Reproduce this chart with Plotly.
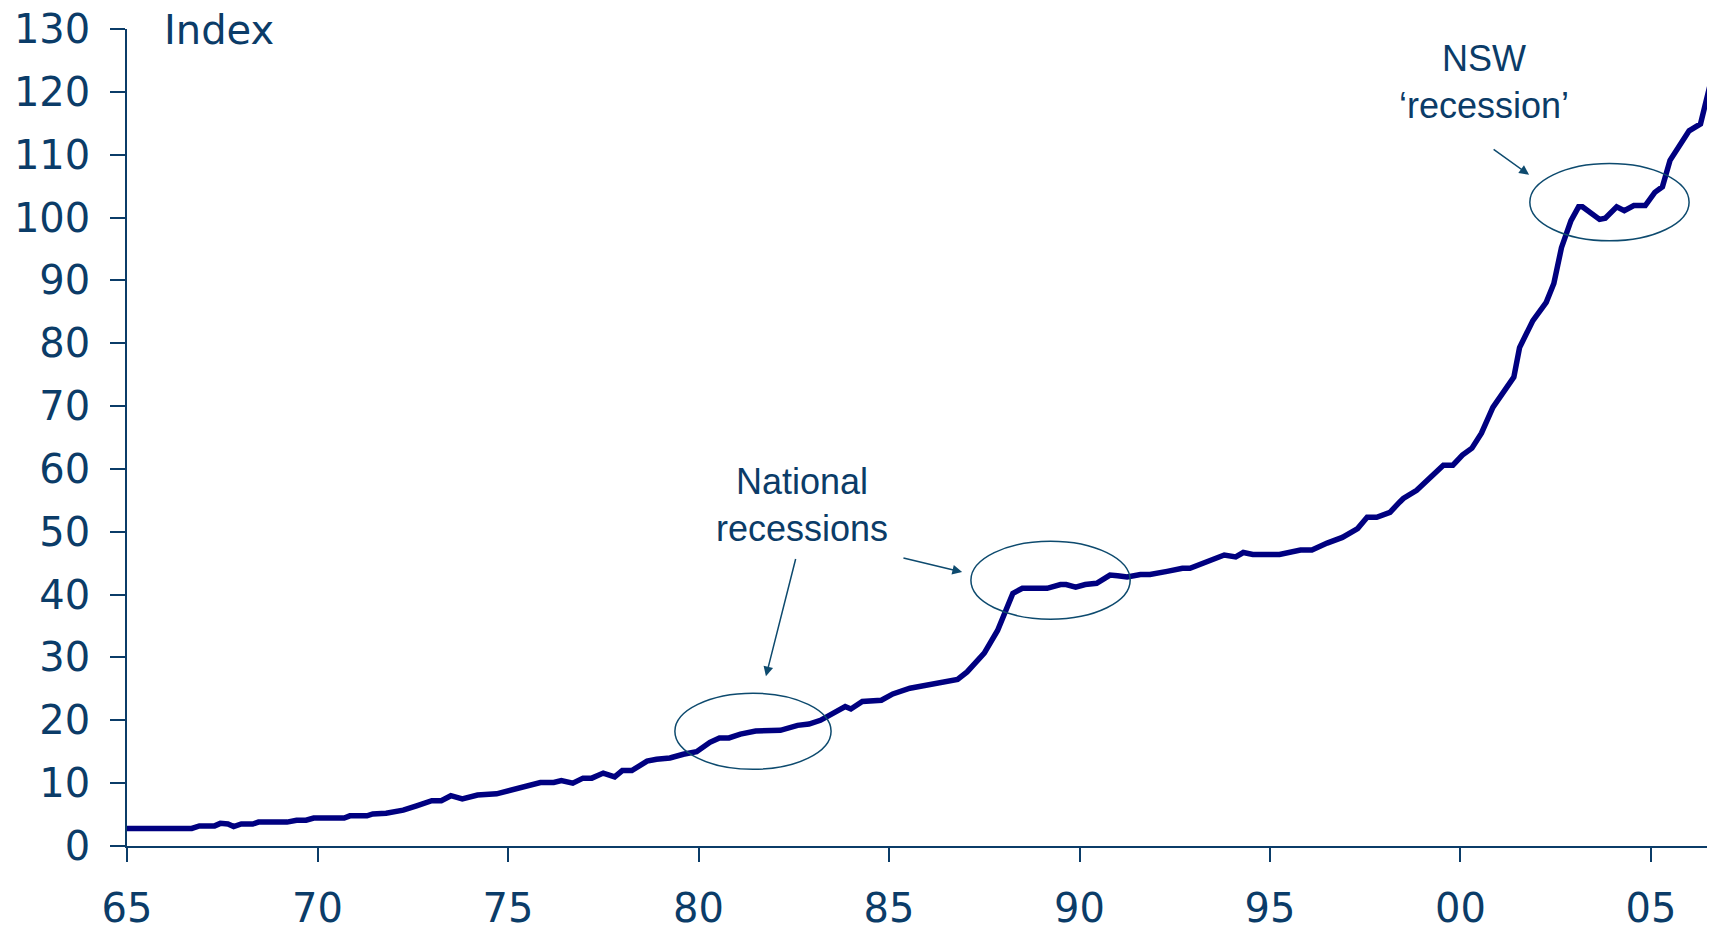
import plotly.graph_objects as go

# index values (year as decimal, index level)
years = [
    1965.0, 1966.7, 1966.9, 1967.3, 1967.45, 1967.65, 1967.8, 1968.0, 1968.3, 1968.45,
    1969.2, 1969.45, 1969.7, 1969.9, 1970.7, 1970.85, 1971.3, 1971.45, 1971.8, 1972.25,
    1972.6, 1973.0, 1973.25, 1973.5, 1973.8, 1974.2, 1974.7, 1975.0, 1975.3, 1975.6,
    1975.85, 1976.2, 1976.4, 1976.7, 1976.97, 1977.2, 1977.5, 1977.8, 1978.0, 1978.25,
    1978.65, 1978.9, 1979.25, 1979.6, 1979.95, 1980.3, 1980.55, 1980.8, 1981.1, 1981.5,
    1982.15, 1982.6, 1982.9, 1983.2, 1983.55, 1983.85, 1984.0, 1984.3, 1984.8, 1985.1,
    1985.55, 1986.1, 1986.6, 1986.8, 1987.05, 1987.5, 1987.85, 1988.0, 1988.25, 1988.5,
    1989.15, 1989.5, 1989.65, 1989.9, 1990.15, 1990.45, 1990.8, 1991.0, 1991.25, 1991.6,
    1991.85, 1992.3, 1992.7, 1992.9, 1993.15, 1993.4, 1993.8, 1994.1, 1994.3, 1994.55,
    1995.25, 1995.8, 1996.1, 1996.5, 1996.9, 1997.3, 1997.55, 1997.8, 1998.15, 1998.4,
    1998.5, 1998.85, 1999.2, 1999.55, 1999.8, 2000.05, 2000.3, 2000.55, 2000.85, 2001.2,
    2001.4, 2001.55, 2001.9, 2002.25, 2002.45, 2002.65, 2002.9, 2003.1, 2003.2, 2003.65,
    2003.8, 2004.1, 2004.3, 2004.55, 2004.85, 2005.1, 2005.3, 2005.5, 2005.85, 2006.0,
    2006.3, 2006.6, 2006.75,
]
index = [
    2.8, 2.8, 3.2, 3.2, 3.6, 3.5, 3.1, 3.5, 3.5, 3.8,
    3.8, 4.1, 4.1, 4.45, 4.45, 4.8, 4.8, 5.1, 5.2, 5.7,
    6.4, 7.2, 7.2, 8.0, 7.5, 8.1, 8.3, 8.8, 9.2, 9.8,
    10.1, 10.1, 10.4, 10.0, 10.8, 10.8, 11.6, 11.0, 12.0, 12.0,
    13.5, 13.8, 14.0, 14.6, 15.0, 16.5, 17.2, 17.2, 17.8, 18.3,
    18.4, 19.2, 19.4, 20.0, 21.2, 22.2, 21.8, 23.0, 23.2, 24.2,
    25.1, 25.8, 26.4, 26.5, 27.7, 30.7, 34.3, 36.4, 40.2, 41.0,
    41.0, 41.6, 41.6, 41.2, 41.6, 41.8, 43.1, 43.0, 42.8, 43.2,
    43.2, 43.7, 44.2, 44.2, 44.8, 45.3, 46.3, 46.0, 46.7, 46.4,
    46.4, 47.1, 47.1, 48.2, 49.1, 50.5, 52.3, 52.3, 53.1, 54.7,
    55.3, 56.6, 58.7, 60.6, 60.6, 62.2, 63.3, 65.7, 69.8, 72.8,
    74.6, 79.3, 83.6, 86.5, 89.5, 95.2, 99.5, 101.7, 101.7, 99.7,
    99.9, 101.7, 101.1, 101.9, 101.9, 104.0, 104.9, 109.1, 112.6, 113.8,
    114.9, 122.3, 125.0,
]

x_tickvals = [1965, 1970, 1975, 1980, 1985, 1990, 1995, 2000, 2005]
x_ticktext = ["65", "70", "75", "80", "85", "90", "95", "00", "05"]
y_tickvals = list(range(0, 131, 10))

axis_col = "#0b3c68"
ann_col = "#0d4a6e"

fig = go.Figure()
fig.add_trace(go.Scatter(x=years, y=index, mode="lines",
                         line=dict(color="#000080", width=5.5), showlegend=False))

# circled periods
circles = [
    (1979.38, 12.2, 1983.48, 24.3),
    (1987.15, 36.1, 1991.33, 48.5),
    (2001.82, 96.3, 2006.0, 108.6),
]
for x0, y0, x1, y1 in circles:
    fig.add_shape(type="circle", xref="x", yref="y", x0=x0, y0=y0, x1=x1, y1=y1,
                  line=dict(color=ann_col, width=1.5))

# arrows: (head x, head y, tail x, tail y)
arrows = [
    (1981.77, 27.0, 1982.56, 45.9),
    (1986.92, 43.6, 1985.34, 45.9),
    (2001.80, 106.8, 2000.83, 111.0),
]
for hx, hy, tx, ty in arrows:
    fig.add_annotation(x=hx, y=hy, ax=tx, ay=ty, xref="x", yref="y", axref="x", ayref="y",
                       text="", showarrow=True, arrowhead=2, arrowsize=1.3,
                       arrowwidth=1.5, arrowcolor=ann_col)

label_font = dict(family="Liberation Sans, Arial", size=36, color=axis_col)
fig.add_annotation(x=1982.72, y=54.2, xref="x", yref="y", text="National<br>recessions",
                   showarrow=False, font=label_font, align="center")
fig.add_annotation(x=2000.62, y=121.5, xref="x", yref="y", text="NSW<br>\u2018recession\u2019",
                   showarrow=False, font=label_font, align="center")
fig.add_annotation(x=1965.92, y=129.9, xref="x", yref="y", text="Index", xanchor="left",
                   showarrow=False, font=dict(family="DejaVu Sans", size=40, color=axis_col))

tick_font = dict(family="DejaVu Sans", size=40, color=axis_col)
fig.update_xaxes(range=[1965, 2006.68], tickvals=x_tickvals, ticktext=x_ticktext,
                 showgrid=False, zeroline=False, showline=True, linecolor=axis_col, linewidth=1.5,
                 ticks="outside", ticklen=14, tickwidth=1.5, tickcolor=axis_col,
                 tickfont=tick_font, ticklabelstandoff=12, automargin=False,
                 ticklabeloverflow="allow")
fig.update_yaxes(range=[0, 130], tickvals=y_tickvals,
                 showgrid=False, zeroline=False, showline=True, linecolor=axis_col, linewidth=1.5,
                 ticks="outside", ticklen=15, tickwidth=1.5, tickcolor=axis_col,
                 tickfont=tick_font, ticklabelstandoff=12, automargin=False,
                 ticklabeloverflow="allow")
# page body adds an 8px margin, so the figure is sized to fit the window
fig.update_layout(width=1707, height=921, margin=dict(l=119, r=0, t=21, b=83),
                  plot_bgcolor="white", paper_bgcolor="white")

fig.write_html("out.html")
